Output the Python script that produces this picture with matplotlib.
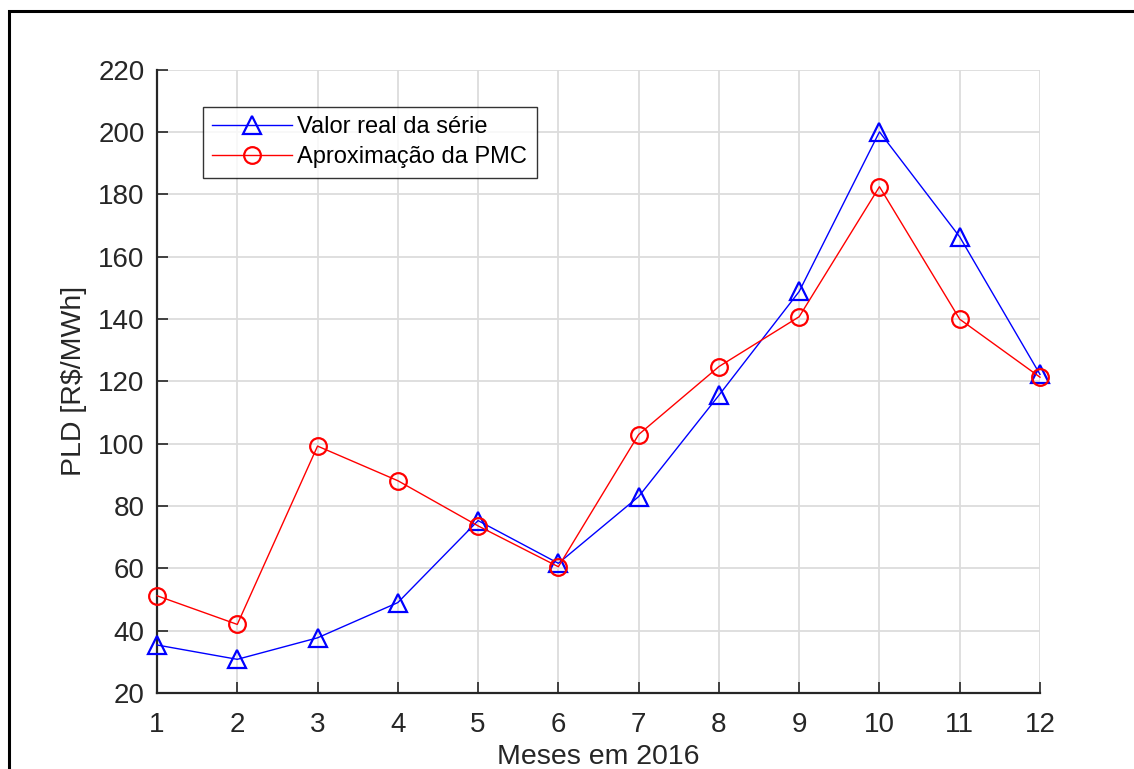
import matplotlib
matplotlib.use("Agg")
import matplotlib.pyplot as plt
from matplotlib.patches import Rectangle

plt.rcParams['font.family'] = ['Liberation Sans', 'DejaVu Sans']

meses = [1, 2, 3, 4, 5, 6, 7, 8, 9, 10, 11, 12]
valor_real = [35.4, 30.8, 37.7, 49.0, 75.3, 61.6, 83.0, 115.5, 148.8, 200.0, 166.3, 122.2]
aprox_pmc = [51.2, 42.0, 99.2, 88.1, 73.6, 60.5, 102.9, 124.7, 140.7, 182.4, 139.9, 121.3]
yticks = [20, 40, 60, 80, 100, 120, 140, 160, 180, 200, 220]

fig = plt.figure(figsize=(11.34, 7.69), dpi=100)
ax = fig.add_axes([157 / 1134, 1 - 693 / 769, (1040 - 157) / 1134, (693 - 69.5) / 769])

# moldura da figura (cortada a direita e embaixo)
fig.patches.append(Rectangle((8.5 / 1134, -0.1), 1.2, 1.1 - 10.5 / 769, transform=fig.transFigure,
                             fill=False, edgecolor='black', linewidth=2.2, zorder=0))

ax.plot(meses, valor_real, color=(0, 0, 1), linewidth=1.0, marker='^', markersize=13,
        markerfacecolor='none', markeredgewidth=1.6, label='Valor real da série', clip_on=False, zorder=3)
ax.plot(meses, aprox_pmc, color=(1, 0, 0), linewidth=1.0, marker='o', markersize=12,
        markerfacecolor='none', markeredgewidth=1.6, label='Aproximação da PMC', clip_on=False, zorder=3)

ax.set_xlim(1, 12)
ax.set_ylim(20, 220)
ax.set_xticks(meses)
ax.set_yticks(yticks)
ax.grid(True, color='#dcdcdc', linewidth=1.3)
ax.set_axisbelow(True)

for s in ['top', 'right']:
    ax.spines[s].set_visible(False)
for s in ['left', 'bottom']:
    ax.spines[s].set_color('#262626')
    ax.spines[s].set_linewidth(1.6)

ax.tick_params(direction='in', length=8, width=1.2, color='#262626', labelcolor='#262626',
               labelsize=20)
ax.tick_params(axis='x', pad=14)
ax.tick_params(axis='y', pad=9)

ax.set_xlabel('Meses em 2016', fontsize=20.5, color='#262626', labelpad=4)
ax.set_ylabel('PLD [R$/MWh]', fontsize=20.5, color='#262626', labelpad=8)

leg = ax.legend(loc='upper left', bbox_to_anchor=(0.0521, 0.940), borderaxespad=0,
                fontsize=17, frameon=True, fancybox=False, handlelength=3.35,
                borderpad=0.4, labelspacing=0.34, handletextpad=0.25)
leg.get_frame().set_edgecolor('black')
leg.get_frame().set_linewidth(1.0)

fig.savefig('out.png', dpi=100)
